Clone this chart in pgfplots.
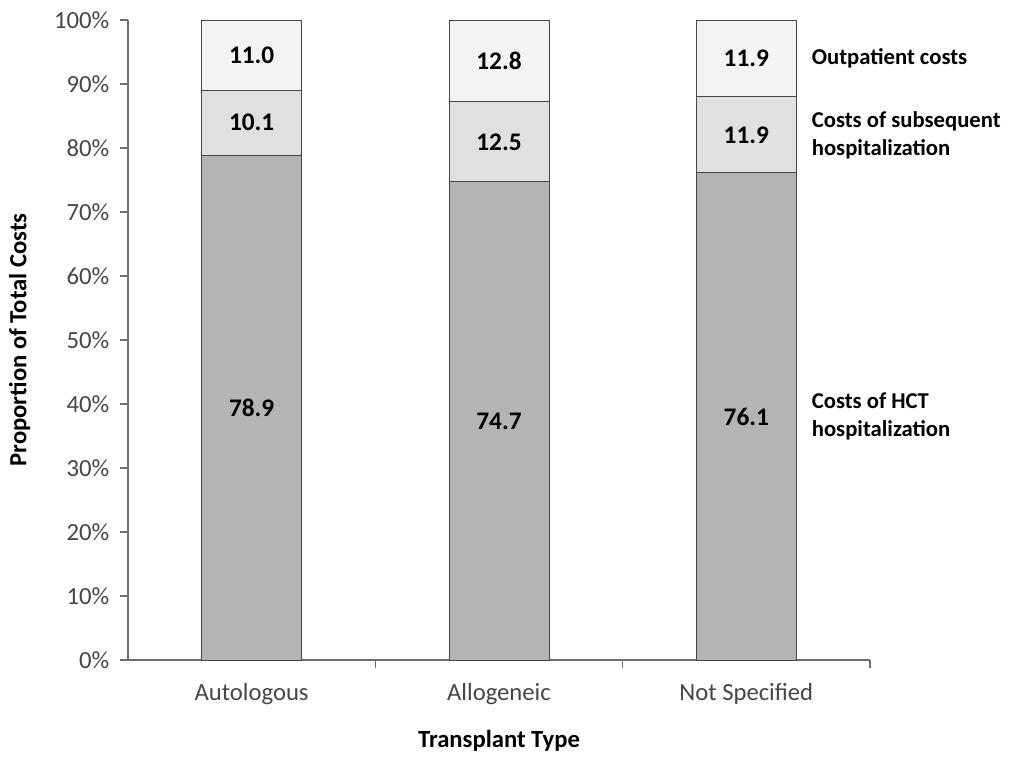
\documentclass[border=0pt]{standalone}
\usepackage{fontspec}
\setmainfont{Carlito}
\usepackage{pgfplots}
\pgfplotsset{compat=1.18}
\definecolor{tickgray}{RGB}{70,70,70}
\definecolor{axgray}{RGB}{110,110,110}
\definecolor{edgegray}{RGB}{70,70,70}
\definecolor{hct}{RGB}{180,180,180}
\definecolor{subs}{RGB}{224,224,224}
\definecolor{outp}{RGB}{243,243,243}
\tikzset{annot/.style={font=\fontsize{17}{21}\selectfont\bfseries, anchor=west, align=left, xshift=8.5pt}}
\begin{document}
\begin{tikzpicture}
\begin{axis}[
  scale only axis, width=556.5pt, height=480pt,
  ybar stacked, bar width=75pt,
  xmin=-0.5, xmax=2.5, ymin=0, ymax=100,
  axis x line*=bottom, axis y line*=left,
  axis line style={draw=axgray, line width=0.9pt},
  tick align=outside,
  xtick={0,1,2}, xticklabels={Autologous,Allogeneic,Not Specified},
  major x tick style={draw=none},
  extra x ticks={0.5,1.5,2.5}, extra x tick labels={},
  extra x tick style={major x tick style={draw=axgray, line width=0.9pt}},
  ytick={0,10,...,100},
  yticklabel={\pgfmathprintnumber{\tick}\%},
  major y tick style={draw=axgray, line width=0.9pt}, major tick length=6pt,
  tick label style={font=\fontsize{18.5}{22}\selectfont, text=tickgray},
  /pgf/number format/assume math mode=true,
  x tick label style={yshift=-8pt},
  y tick label style={xshift=-4.5pt},
  ylabel={Proportion of Total Costs},
  xlabel={Transplant Type},
  every axis y label/.style={at={(axis description cs:-0.146,0.5)}, rotate=90, anchor=center, font=\fontsize{18.5}{22}\selectfont\bfseries},
  every axis x label/.style={at={(axis description cs:0.5,-0.127)}, anchor=center, font=\fontsize{18.5}{22}\selectfont\bfseries},
  clip=false,
]
\addplot[fill=hct, draw=edgegray, line width=0.7pt] coordinates {(0,78.9) (1,74.7) (2,76.1)};
\addplot[fill=subs, draw=edgegray, line width=0.7pt] coordinates {(0,10.1) (1,12.5) (2,11.9)};
\addplot[fill=outp, draw=edgegray, line width=0.7pt] coordinates {(0,11.0) (1,12.8) (2,11.9)};
\node[annot] at (axis cs:2.2,94.05) {Outpatient costs};
\node[annot] at (axis cs:2.2,82.05) {Costs of subsequent\\hospitalization};
\node[annot] at (axis cs:2.2,38.05) {Costs of HCT\\hospitalization};
\coordinate (sw) at (rel axis cs:0,0);
\coordinate (ne) at (rel axis cs:1,1);
\end{axis}
\begin{axis}[
  scale only axis, width=556.5pt, height=480pt,
  xmin=-0.5, xmax=2.5, ymin=0, ymax=100,
  hide axis, clip=false,
  nodes near coords, point meta=explicit symbolic,
  every node near coord/.append style={font=\fontsize{19}{22}\selectfont\bfseries, text=black, anchor=center},
]
\addplot[draw=none, mark=none] coordinates {
  (0,39.45)[78.9] (1,37.35)[74.7] (2,38.05)[76.1]};
\addplot[draw=none, mark=none] coordinates {
  (0,83.95)[10.1] (1,80.95)[12.5] (2,82.05)[11.9]};
\addplot[draw=none, mark=none] coordinates {
  (0,94.5)[11.0] (1,93.6)[12.8] (2,94.05)[11.9]};
\end{axis}
\pgfresetboundingbox
\path[use as bounding box] ([shift={(-96pt,-73.5pt)}]sw) rectangle ([shift={(107.25pt,15pt)}]ne);
\end{tikzpicture}
\end{document}
